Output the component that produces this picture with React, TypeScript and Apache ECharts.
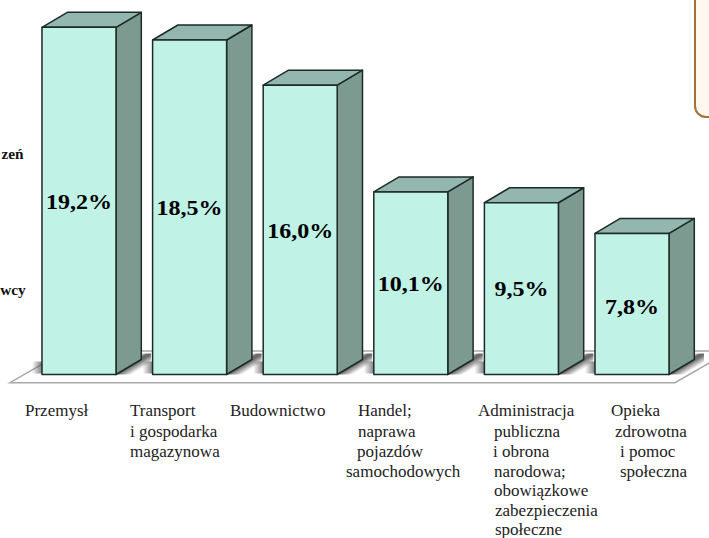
import React, { useEffect, useRef } from "react";
import * as echarts from "echarts";

const categories = ["Przemysł", "Transport i gospodarka magazynowa", "Budownictwo", "Handel; naprawa pojazdów samochodowych", "Administracja publiczna i obrona narodowa; obowiązkowe zabezpieczenia społeczne", "Opieka zdrowotna i pomoc społeczna"];
const shares = [19.2, 18.5, 16.0, 10.1, 9.5, 7.8];
const shareLabels = ["19,2%", "18,5%", "16,0%", "10,1%", "9,5%", "7,8%"];
const categoryLines = [
  ["Przemysł"],
  ["Transport", "i gospodarka", "magazynowa"],
  ["Budownictwo"],
  ["Handel;", "naprawa", "pojazdów", "samochodowych"],
  ["Administracja", "publiczna", "i obrona", "narodowa;", "obowiązkowe", "zabezpieczenia", "społeczne"],
  ["Opieka", "zdrowotna", "i pomoc", "społeczna"],
];
const lineLefts = [
  [25],
  [130, 130, 130],
  [230],
  [358, 358, 357, 346],
  [478, 494, 493, 494, 494, 495, 495],
  [611, 615, 620, 620],
];
const sideTexts = [
  { text: "zeń", y: 153, right: 23.5 },
  { text: "wcy", y: 289.5, right: 25.7 },
];

const SERIF = '"Liberation Serif", "Times New Roman", serif';
const DX = 25.3;
const DY = 15;
const BAR_W = 74;
const STROKE = "#1d2b28";
const SHADE = (a: number) => `rgba(70,70,70,${a})`;

function renderBar(params: any, api: any) {
  const i = params.dataIndex;
  const [cx, top] = api.coord([i, api.value(1)]);
  const [, base] = api.coord([i, 0]);
  const [, mid] = api.coord([i, api.value(1) / 2]);
  const l = cx - BAR_W / 2;
  const r = cx + BAR_W / 2;
  const edge = { stroke: STROKE, lineWidth: 1.5, lineJoin: "round" };
  return {
    type: "group",
    children: [
      {
        type: "rect",
        shape: { x: l - 10, y: base - 13, width: 10, height: 12 },
        style: {
          fill: new echarts.graphic.LinearGradient(0, 0, 1, 0, [
            { offset: 0, color: SHADE(0) },
            { offset: 1, color: SHADE(0.7) },
          ]),
        },
      },
      {
        type: "rect",
        shape: { x: r, y: base - 21, width: 35, height: 21 },
        style: {
          fill: new echarts.graphic.LinearGradient(0, 0, 1, 1, [
            { offset: 0.36, color: SHADE(0) },
            { offset: 0.45, color: SHADE(0.8) },
            { offset: 0.52, color: SHADE(0.8) },
            { offset: 0.72, color: SHADE(0) },
          ]),
        },
      },
      {
        type: "polygon",
        shape: { points: [[r, top], [r + DX, top - DY], [r + DX, base - DY], [r, base]] },
        style: { fill: "#7c9a90", ...edge },
      },
      {
        type: "polygon",
        shape: { points: [[l, top], [l + DX, top - DY], [r + DX, top - DY], [r, top]] },
        style: { fill: "#93b6ae", ...edge },
      },
      {
        type: "rect",
        shape: { x: l, y: top, width: BAR_W, height: base - top },
        style: { fill: "#c0f2e6", ...edge },
      },
      {
        type: "text",
        x: cx,
        y: mid + (i === 5 ? 3 : 1),
        scaleX: 1.2,
        style: {
          text: shareLabels[i],
          fill: "#000",
          font: `bold 20px ${SERIF}`,
          textAlign: "center",
          textVerticalAlign: "middle",
        },
      },
    ],
  };
}

export default function App() {
  const ref = useRef<HTMLDivElement>(null);
  useEffect(() => {
    document.body.style.margin = "0";
    document.body.style.overflow = "hidden";
    const chart = echarts.init(ref.current!, null, { renderer: "svg" });
    const lineTops = [410.5, 431, 451, 471, 490.5, 510.5, 529.5];
    const graphics: any[] = [
      {
        type: "polygon",
        z: 0,
        shape: { points: [[10, 382.7], [675, 382.7], [730, 351], [65, 351]] },
        style: { fill: "#ffffff", stroke: "#a8a8a8", lineWidth: 1.5 },
      },
      {
        type: "rect",
        z: 0,
        shape: { x: 695, y: -30, width: 60, height: 147, r: 11 },
        style: { fill: "#fff8ee", stroke: "#a56f3a", lineWidth: 2 },
      },
    ];
    sideTexts.forEach((s) => {
      graphics.push({
        type: "text",
        z: 5,
        x: s.right,
        y: s.y,
        style: { text: s.text, fill: "#111", font: `bold 15.3px ${SERIF}`, textAlign: "right", textVerticalAlign: "middle" },
      });
    });
    categoryLines.forEach((lines, c) => {
      lines.forEach((t, k) => {
        graphics.push({
          type: "text",
          z: 5,
          x: lineLefts[c][k],
          y: lineTops[k],
          style: { text: t, fill: "#222", font: `17px ${SERIF}`, textAlign: "left", textVerticalAlign: "middle" },
        });
      });
    });
    chart.setOption({
      animation: false,
      backgroundColor: "#ffffff",
      grid: { left: 23.7, top: 12.9, width: 663.6, height: 361.6, containLabel: false },
      xAxis: { type: "category", data: categories, axisLine: { show: false }, axisTick: { show: false }, axisLabel: { show: false } },
      yAxis: { type: "value", min: 0, max: 20, show: false, splitLine: { show: false } },
      graphic: graphics,
      series: [
        {
          type: "custom",
          z: 3,
          clip: false,
          data: shares.map((v, i) => [i, v]),
          encode: { x: 0, y: 1 },
          renderItem: renderBar,
        },
      ],
    });
    return () => chart.dispose();
  }, []);
  return <div ref={ref} style={{ position: "absolute", left: 0, top: 0, width: 709, height: 538 }} />;
}
